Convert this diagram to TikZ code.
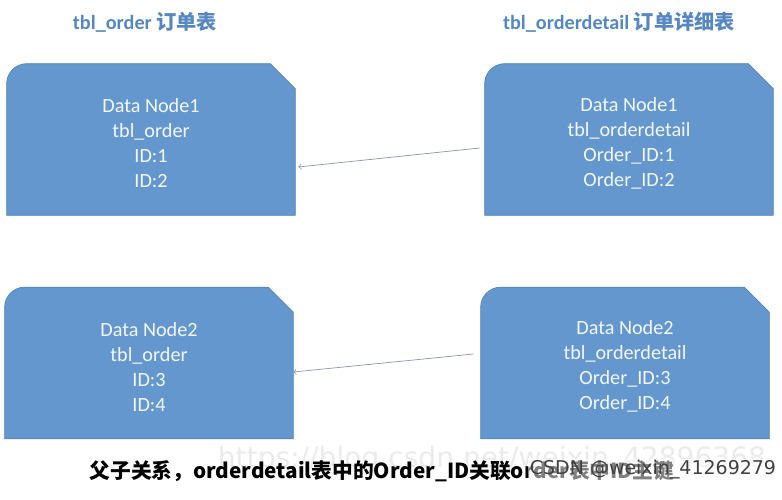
\documentclass[tikz,border=0pt]{standalone}
\usepackage{fontspec}
\setmainfont{Carlito}
\newfontfamily\cjk{Noto Sans CJK SC}
\newfontfamily\markfont{DejaVu Sans}
\usetikzlibrary{backgrounds}
\definecolor{boxblue}{RGB}{100,151,206}
\definecolor{boxedge}{RGB}{84,132,186}
\definecolor{titleblue}{RGB}{86,135,192}
\definecolor{linkgray}{RGB}{138,150,168}
\begin{document}
\begin{tikzpicture}[x=0.02cm, y=-0.02cm, >=to,
    databox/.style={minimum width=5.76cm, minimum height=3.02cm, inner sep=0pt,
        align=center, text=white!92!boxblue, font=\fontsize{11.5}{14.2}\selectfont},
    tabletitle/.style={text=titleblue, font=\bfseries\fontsize{11.5}{13}\selectfont},
    link/.style={->, linkgray, thin}]
    \useasboundingbox (0,0) rectangle (782,500);

    % Table titles
    \node[tabletitle] (t1) at (145,22) {tbl\_order {\cjk 订单表}};
    \node[tabletitle] (t2) at (619,22) {tbl\_orderdetail {\cjk 订单详细表}};

    % Data nodes
    \node[databox] (o1) at (151,139.5) {\\[-2pt]Data Node1\\tbl\_order\\ID:1\\ID:2};
    \node[databox] (d1) at (629,139.5) {\\[-2pt]Data Node1\\tbl\_orderdetail\\Order\_ID:1\\Order\_ID:2};
    \node[databox] (o2) at (149,363) {\\[-2pt]Data Node2\\tbl\_order\\ID:3\\ID:4};
    \node[databox] (d2) at (625,363) {\\[-2pt]Data Node2\\tbl\_orderdetail\\Order\_ID:3\\Order\_ID:4};

    % Box outlines: rounded top left, cut top right
    \begin{scope}[on background layer]
    \foreach \n in {o1,d1,o2,d2}
        \filldraw[fill=boxblue, draw=boxedge, thin] (\n.south west)
            [rounded corners=0.4cm] -- (\n.north west)
            [sharp corners] -- ([xshift=-0.5cm]\n.north east)
            -- ([yshift=-0.5cm]\n.north east) -- (\n.south east) -- cycle;
    \end{scope}

    % Links from detail to order
    \draw[link] ([xshift=-0.1cm, yshift=-0.17cm]d1.west) -- ([xshift=0.06cm, yshift=-0.55cm]o1.east);
    \draw[link] ([xshift=-0.14cm, yshift=0.18cm]d2.west) -- ([yshift=-0.18cm]o2.east);

    % Caption and marks
    \node[text=black!8, font=\markfont\fontsize{16}{18}\selectfont] (url) at (492,460) {https://blog.csdn.net/weixin\_42896368};
    \node[font=\cjk\bfseries\fontsize{11.8}{14}\selectfont] (cap) at (382,471) {父子关系，orderdetail表中的Order\_ID关联order表中ID主键};
    \node[text=black!75, fill=white, fill opacity=0.5, text opacity=1, inner sep=1pt, font=\markfont\fontsize{10.8}{13}\selectfont] (csdn) at (653,470) {CSDN @weixin\_41269279};
\end{tikzpicture}
\end{document}
